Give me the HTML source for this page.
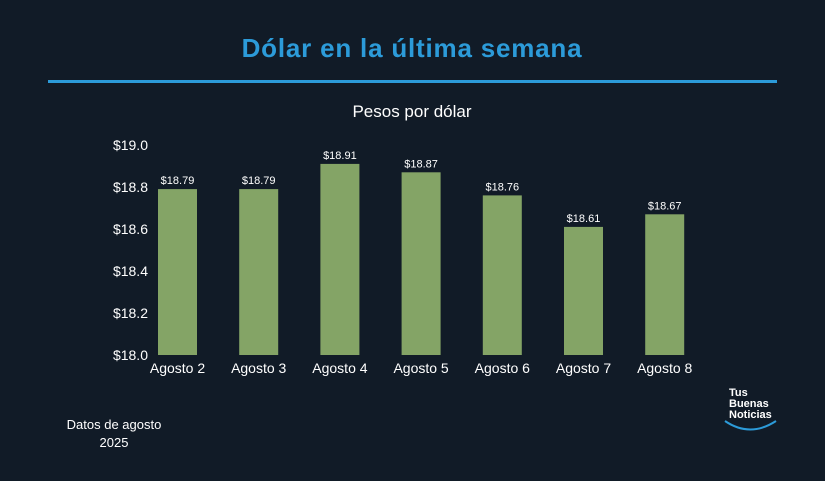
<!DOCTYPE html>
<html><head><meta charset="utf-8"><style>
html,body{margin:0;padding:0;background:#111b27;width:825px;height:481px;overflow:hidden;font-family:"Liberation Sans",sans-serif;}
</style></head><body>
<svg width="825" height="481" xmlns="http://www.w3.org/2000/svg">
<rect width="825" height="481" fill="#111b27"/>
<text x="412" y="57" text-anchor="middle" fill="#2c9bd9" font-size="26" font-weight="bold" letter-spacing="0.8">Dólar en la última semana</text>
<rect x="48" y="80" width="729" height="3" fill="#2c9bd9"/>
<text x="412" y="117" text-anchor="middle" fill="#ffffff" font-size="17">Pesos por dólar</text>
<g id="yaxis"></g>
<g id="bars"></g>
<text x="114" y="429" text-anchor="middle" fill="#ffffff" font-size="13"><tspan x="114">Datos de agosto</tspan><tspan x="114" dy="18">2025</tspan></text>
<g>
<text x="729" y="396" fill="#ffffff" font-size="11" font-weight="bold">Tus</text>
<text x="729" y="407" fill="#ffffff" font-size="11" font-weight="bold">Buenas</text>
<text x="729" y="418" fill="#ffffff" font-size="11" font-weight="bold">Noticias</text>
<path d="M725 421 Q750 438 776 421" stroke="#2c9bd9" stroke-width="2" fill="none"/>
</g>
</svg>
<script>
const categories=["Agosto 2","Agosto 3","Agosto 4","Agosto 5","Agosto 6","Agosto 7","Agosto 8"];
const values=[18.79,18.79,18.91,18.87,18.76,18.61,18.67];
const yTicks=[18.0,18.2,18.4,18.6,18.8,19.0];
const yMin=18.0,yMax=19.0;
const NS="http://www.w3.org/2000/svg";
function y(v){return 355-(v-yMin)/(yMax-yMin)*210;}
function x(i){return 177.5+i*81.2;}
const ya=document.getElementById('yaxis'),bg=document.getElementById('bars');
yTicks.forEach(t=>{const el=document.createElementNS(NS,'text');


el.setAttribute('x',148);el.setAttribute('y',y(t)+5);el.setAttribute('text-anchor','end');
el.setAttribute('fill','#fff');el.setAttribute('font-size','14');el.textContent='$'+t.toFixed(1);ya.appendChild(el);});
values.forEach((v,i)=>{const r=document.createElementNS(NS,'rect');


r.setAttribute('x',x(i)-19.5);r.setAttribute('width',39);r.setAttribute('y',y(v));r.setAttribute('height',355-y(v));
r.setAttribute('fill','#84a466');bg.appendChild(r);
const l=document.createElementNS(NS,'text');


l.setAttribute('x',x(i));l.setAttribute('y',y(v)-5);l.setAttribute('text-anchor','middle');
l.setAttribute('fill','#fff');l.setAttribute('font-size','11');l.textContent='$'+v.toFixed(2);bg.appendChild(l);
const c=document.createElementNS(NS,'text');


c.setAttribute('x',x(i));c.setAttribute('y',373);c.setAttribute('text-anchor','middle');
c.setAttribute('fill','#fff');c.setAttribute('font-size','14');c.textContent=categories[i];bg.appendChild(c);});
</script>
</body></html>
